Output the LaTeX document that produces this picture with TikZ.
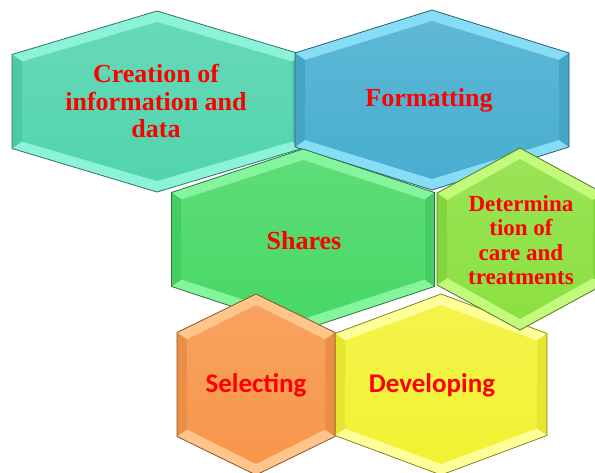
\documentclass[tikz,border=0pt]{standalone}
\usepackage{fontspec}
\setmainfont{Liberation Serif}
\newfontfamily\carlito{Carlito}
\definecolor{tealbase}{HTML}{52D4AE}
\definecolor{teallight}{HTML}{8CF2D8}
\definecolor{bluebase}{HTML}{48AED0}
\definecolor{bluelight}{HTML}{86DDF5}
\definecolor{greenbase}{HTML}{48D866}
\definecolor{greenlight}{HTML}{84F59C}
\definecolor{limebase}{HTML}{8CE040}
\definecolor{limelight}{HTML}{C4FA7C}
\definecolor{orangebase}{HTML}{F7964A}
\definecolor{orangelight}{HTML}{FFC58A}
\definecolor{yellowbase}{HTML}{F2F233}
\definecolor{yellowlight}{HTML}{FFFF99}
% #1 cx, #2 cy, #3 half width, #4 half height, #5 shoulder, #6 base, #7 light
\newcommand{\hexcell}[7]{%
  \begin{scope}[shift={(#1,#2)}]
    \fill[#7] (0,-#4) -- (#3,-#5) -- (#3,#5) -- (0,#4) -- (-#3,#5) -- (-#3,-#5) -- cycle;
    \fill[#6!95!black] (-#3,-#5) -- ({-#3+10},{-#5+7}) -- ({-#3+10},{#5-7}) -- (-#3,#5) -- cycle;
    \fill[#6!95!black] (#3,-#5) -- ({#3-10},{-#5+7}) -- ({#3-10},{#5-7}) -- (#3,#5) -- cycle;
    \shade[top color=#6!88!white, bottom color=#6]
      (0,{-#4+11}) -- ({#3-10},{-#5+7}) -- ({#3-10},{#5-7}) -- (0,{#4-11})
      -- ({-#3+10},{#5-7}) -- ({-#3+10},{-#5+7}) -- cycle;
    \draw[#6!55!black, line width=0.8pt] (0,-#4) -- (#3,-#5) -- (#3,#5) -- (0,#4)
      -- (-#3,#5) -- (-#3,-#5) -- cycle;
  \end{scope}}
\tikzset{
  lbl/.style={text=red, align=center, inner sep=0pt, font=\bfseries\fontsize{26}{27.5}\selectfont},
  smalllbl/.style={lbl, font=\bfseries\fontsize{23}{24.5}\selectfont},
  sanslbl/.style={lbl, font=\carlito\bfseries\fontsize{27}{30}\selectfont}
}
\begin{document}
\begin{tikzpicture}[x=1pt, y=-1pt]
  \useasboundingbox[fill=white] (0,0) rectangle (595,473);
  \hexcell{441}{384.5}{106}{90.5}{51}{yellowbase}{yellowlight}
  \hexcell{157}{101.5}{145}{90.5}{47}{tealbase}{teallight}
  \hexcell{432}{100}{137}{90}{47}{bluebase}{bluelight}
  \hexcell{303}{239.5}{131.5}{90.5}{47}{greenbase}{greenlight}
  \hexcell{520}{239}{83}{91}{46}{limebase}{limelight}
  \hexcell{256}{384.5}{79}{90.5}{52}{orangebase}{orangelight}
  \node[lbl] (creation) at (156,101) {Creation of\\information and\\data};
  \node[lbl] (formatting) at (429,100) {Formatting};
  \node[lbl] (shares) at (304,241) {Shares};
  \node[smalllbl] (determination) at (521,240) {Determina\\tion of\\care and\\treatments};
  \node[sanslbl] (selecting) at (256,385) {Selecting};
  \node[sanslbl] (developing) at (432,385) {Developing};
\end{tikzpicture}
\end{document}
